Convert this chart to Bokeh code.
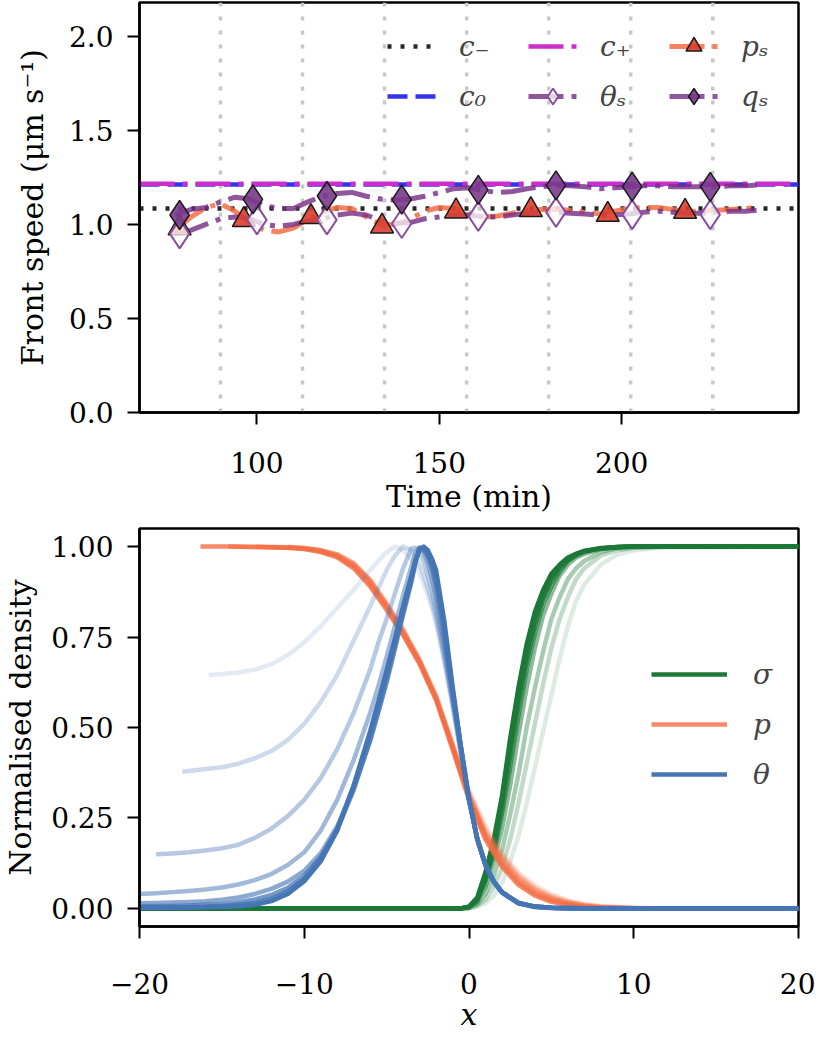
from bokeh.plotting import figure
from bokeh.models import (Range1d, FixedTicker, NumeralTickFormatter, CustomJSTickFormatter,
                          Span, Legend, LegendItem)
from bokeh.layouts import column
from bokeh.embed import file_html
from bokeh.resources import INLINE

FONT = "DejaVu Serif"

# ---------------- top panel data ----------------
TIME_LIMITS = [67.8, 248.5]
SPEED_LIMITS = [0.0, 2.18]
TIME_TICKS = [100, 150, 200]
SPEED_TICKS = [0.0, 0.5, 1.0, 1.5, 2.0]
SWITCH_TIMES = [90, 112.5, 135, 157.5, 180, 202.5, 225]
C_MINUS = 1.085
C_ZERO = 1.212
C_PLUS = 1.216

T_LINE = [77.5, 82, 86, 90, 94, 98, 102, 106, 110, 114, 118, 122, 126, 130, 134, 138,
          142, 146, 150, 154, 158, 162, 166, 170, 174, 178, 182, 186, 190, 194, 198, 202,
          206, 210, 214, 218, 222, 226, 230, 234, 237]
P_S_LINE = [0.97, 1.04, 1.09, 1.11, 1.07, 1.01, 0.97, 0.96, 0.98, 1.03, 1.065, 1.09, 1.085,
            1.04, 1.0, 1.0, 1.03, 1.07, 1.09, 1.085, 1.06, 1.04, 1.045, 1.06, 1.075, 1.08,
            1.08, 1.075, 1.065, 1.055, 1.07, 1.085, 1.09, 1.09, 1.08, 1.07, 1.07, 1.075,
            1.08, 1.085, 1.09]
THETA_S_LINE = [0.95, 0.97, 1.0, 1.03, 1.04, 1.03, 1.0, 0.99, 1.0, 1.02, 1.03, 1.05, 1.06,
                1.05, 1.02, 1.005, 1.01, 1.03, 1.04, 1.05, 1.05, 1.04, 1.04, 1.05, 1.06,
                1.07, 1.065, 1.06, 1.055, 1.05, 1.05, 1.055, 1.065, 1.07, 1.065, 1.06,
                1.06, 1.065, 1.07, 1.07, 1.075]
Q_S_LINE = [1.05, 1.08, 1.09, 1.12, 1.145, 1.135, 1.10, 1.085, 1.085, 1.12, 1.15, 1.165,
            1.17, 1.15, 1.135, 1.13, 1.135, 1.15, 1.17, 1.19, 1.195, 1.18, 1.17, 1.175,
            1.19, 1.2, 1.208, 1.205, 1.2, 1.19, 1.195, 1.2, 1.205, 1.205, 1.2, 1.2, 1.2,
            1.2, 1.205, 1.205, 1.21]

P_S_MARK_T = [78.8, 96.4, 114.8, 134.3, 154.6, 175.1, 196.2, 217.4]
P_S_MARK_V = [0.98, 1.024, 1.04, 0.99, 1.07, 1.077, 1.052, 1.068]
THETA_S_MARK_T = [78.8, 100.0, 119.2, 139.7, 160.7, 182.0, 202.9, 224.3]
THETA_S_MARK_V = [0.95, 1.024, 1.024, 1.005, 1.043, 1.064, 1.052, 1.052]
Q_S_MARK_T = [78.8, 98.9, 119.2, 139.7, 160.7, 182.0, 202.9, 224.3]
Q_S_MARK_V = [1.05, 1.133, 1.151, 1.132, 1.184, 1.208, 1.201, 1.2]

# ---------------- bottom panel data ----------------
X_LIMITS = [-20, 20]
DENS_LIMITS = [-0.05, 1.05]
X_TICKS = [-20, -10, 0, 10, 20]
DENS_TICKS = [0.0, 0.25, 0.5, 0.75, 1.0]

SIGMA_X = [-20, -0.5, 0, 0.5, 1, 1.5, 2, 2.5, 3, 3.5, 4, 4.5, 5, 5.5, 6, 6.5, 7, 8, 9, 10, 12, 20]
SIGMA_PROFILES = [
    [0, 0, 0, 0.005, 0.015, 0.035, 0.07, 0.13, 0.20, 0.29, 0.39, 0.49, 0.59, 0.69, 0.78, 0.85, 0.895, 0.95, 0.978, 0.99, 0.998, 1],
    [0, 0, 0, 0.008, 0.025, 0.06, 0.11, 0.19, 0.29, 0.40, 0.51, 0.62, 0.72, 0.80, 0.86, 0.91, 0.94, 0.975, 0.99, 0.996, 1, 1],
    [0, 0, 0.002, 0.012, 0.04, 0.09, 0.16, 0.26, 0.37, 0.50, 0.61, 0.71, 0.80, 0.86, 0.91, 0.94, 0.96, 0.985, 0.995, 0.998, 1, 1],
    [0, 0, 0.003, 0.018, 0.06, 0.13, 0.22, 0.34, 0.48, 0.61, 0.72, 0.81, 0.87, 0.92, 0.95, 0.97, 0.98, 0.993, 0.998, 1, 1, 1],
    [0, 0, 0.004, 0.022, 0.075, 0.15, 0.26, 0.39, 0.53, 0.66, 0.76, 0.84, 0.89, 0.93, 0.96, 0.975, 0.985, 0.995, 0.999, 1, 1, 1],
    [0, 0, 0.004, 0.025, 0.08, 0.16, 0.28, 0.42, 0.56, 0.68, 0.78, 0.855, 0.905, 0.94, 0.962, 0.977, 0.987, 0.995, 0.999, 1, 1, 1],
    [0, 0, 0.005, 0.027, 0.09, 0.175, 0.295, 0.445, 0.585, 0.705, 0.80, 0.865, 0.915, 0.945, 0.966, 0.98, 0.988, 0.996, 0.999, 1, 1, 1],
    [0, 0, 0.005, 0.03, 0.10, 0.19, 0.31, 0.47, 0.61, 0.73, 0.82, 0.88, 0.925, 0.95, 0.97, 0.98, 0.988, 0.995, 0.998, 1, 1, 1],
]

P_X = [-16.3, -14.6, -12.9, -11, -10, -9, -8, -7, -6, -5, -4, -3, -2, -1, 0, 1, 2, 3, 4, 5, 6, 7, 8, 10, 12, 20]
P_PROFILES = [
    [None, None, None, 0.999, 0.997, 0.99, 0.98, 0.955, 0.91, 0.845, 0.775, 0.69, 0.59, 0.46, 0.33, 0.23, 0.155, 0.10, 0.065, 0.04, 0.022, 0.012, 0.006, 0.001, 0.0, 0.0],
    [None, None, None, 0.999, 0.997, 0.99, 0.979, 0.954, 0.908, 0.843, 0.77, 0.687, 0.587, 0.455, 0.322, 0.219, 0.146, 0.094, 0.058, 0.035, 0.02, 0.011, 0.006, 0.001, 0.0, 0.0],
    [None, None, None, 0.999, 0.996, 0.99, 0.978, 0.953, 0.907, 0.84, 0.768, 0.685, 0.585, 0.452, 0.316, 0.21, 0.138, 0.086, 0.052, 0.03, 0.017, 0.009, 0.004, 0.001, 0.0, 0.0],
    [None, None, 1.0, 0.998, 0.995, 0.989, 0.976, 0.95, 0.903, 0.838, 0.765, 0.683, 0.583, 0.448, 0.31, 0.204, 0.13, 0.079, 0.046, 0.026, 0.014, 0.007, 0.003, 0.001, 0.0, 0.0],
    [None, 1.0, 0.999, 0.997, 0.994, 0.987, 0.973, 0.945, 0.897, 0.832, 0.76, 0.68, 0.58, 0.445, 0.305, 0.197, 0.122, 0.072, 0.04, 0.022, 0.011, 0.005, 0.002, 0.0, 0.0, 0.0],
    [1.0, 1.0, 0.999, 0.997, 0.993, 0.985, 0.97, 0.94, 0.89, 0.825, 0.755, 0.675, 0.575, 0.44, 0.30, 0.19, 0.115, 0.065, 0.035, 0.018, 0.009, 0.004, 0.002, 0.0, 0.0, 0.0],
]

THETA_X = [-20, -19, -18, -17, -16, -15, -14, -13, -12, -11, -10, -9, -8, -7, -6, -5.5, -5, -4.5,
           -4, -3.5, -3.25, -3, -2.75, -2.5, -2.25, -2, -1.5, -1, -0.5, 0, 0.5, 1, 1.5, 2, 3, 4, 5, 6, 8, 20]
THETA_START_X = [-15.8, -17.4]
THETA_START_Y = [0.645, 0.378]
THETA_PROFILES = [
    [None, None, None, None, None, 0.648, 0.652, 0.66, 0.675, 0.70, 0.735, 0.78, 0.83, 0.88, 0.935, 0.96, 0.985, 1.0,
     0.99, 0.965, 0.947, 0.925, 0.897, 0.865, 0.827, 0.785, 0.68, 0.555, 0.425, 0.30, 0.195, 0.12, 0.072, 0.042, 0.013, 0.004, 0.001, 0.0, 0.0, 0.0],
    [None, None, None, 0.38, 0.385, 0.39, 0.40, 0.415, 0.435, 0.465, 0.51, 0.57, 0.645, 0.74, 0.835, 0.885, 0.935, 0.975,
     1.0, 0.99, 0.972, 0.95, 0.92, 0.885, 0.845, 0.80, 0.69, 0.565, 0.43, 0.30, 0.195, 0.12, 0.073, 0.043, 0.014, 0.004, 0.001, 0.0, 0.0, 0.0],
    [None, 0.15, 0.152, 0.155, 0.16, 0.166, 0.176, 0.195, 0.22, 0.255, 0.30, 0.36, 0.44, 0.54, 0.66, 0.735, 0.80, 0.87,
     0.94, 0.995, 0.997, 0.985, 0.96, 0.92, 0.875, 0.82, 0.70, 0.57, 0.435, 0.30, 0.195, 0.12, 0.074, 0.044, 0.014, 0.004, 0.001, 0.0, 0.0, 0.0],
    [0.04, 0.042, 0.045, 0.048, 0.052, 0.058, 0.066, 0.078, 0.095, 0.12, 0.155, 0.215, 0.30, 0.41, 0.54, 0.615, 0.695, 0.78,
     0.865, 0.945, 0.985, 0.998, 0.985, 0.955, 0.91, 0.855, 0.725, 0.583, 0.44, 0.30, 0.195, 0.12, 0.074, 0.044, 0.014, 0.004, 0.001, 0.0, 0.0, 0.0],
    [0.014, 0.015, 0.016, 0.018, 0.02, 0.024, 0.03, 0.04, 0.054, 0.074, 0.104, 0.152, 0.227, 0.332, 0.462, 0.542, 0.624, 0.716,
     0.81, 0.90, 0.955, 0.995, 0.99, 0.97, 0.935, 0.885, 0.75, 0.595, 0.445, 0.30, 0.193, 0.12, 0.075, 0.045, 0.015, 0.005, 0.002, 0.0, 0.0, 0.0],
    [0.006, 0.0065, 0.007, 0.008, 0.01, 0.012, 0.017, 0.025, 0.037, 0.057, 0.09, 0.142, 0.218, 0.327, 0.466, 0.546, 0.631, 0.722,
     0.816, 0.906, 0.958, 0.995, 0.995, 0.978, 0.948, 0.905, 0.77, 0.60, 0.447, 0.30, 0.192, 0.12, 0.075, 0.045, 0.015, 0.005, 0.002, 0.001, 0.0, 0.0],
    [0.003, 0.0033, 0.0037, 0.0042, 0.005, 0.007, 0.01, 0.015, 0.026, 0.047, 0.082, 0.136, 0.22, 0.338, 0.483, 0.563, 0.647, 0.735,
     0.825, 0.912, 0.96, 0.993, 0.998, 0.985, 0.958, 0.92, 0.78, 0.605, 0.448, 0.30, 0.191, 0.12, 0.075, 0.045, 0.015, 0.005, 0.002, 0.001, 0.0, 0.0],
    [0.001, 0.0012, 0.0015, 0.002, 0.003, 0.004, 0.006, 0.01, 0.02, 0.04, 0.075, 0.13, 0.215, 0.34, 0.49, 0.572, 0.658, 0.745,
     0.835, 0.92, 0.962, 0.992, 1.0, 0.99, 0.966, 0.935, 0.795, 0.615, 0.45, 0.305, 0.19, 0.12, 0.075, 0.045, 0.015, 0.005, 0.002, 0.001, 0.0, 0.0],
]

CURVE_ALPHAS = [0.15, 0.27, 0.39, 0.51, 0.63, 0.75, 0.87, 1.0]
P_ALPHAS = [0.15, 0.3, 0.45, 0.55, 0.65, 0.8]

GREEN = "#1b7837"
ORANGE = "#f46d43"
BLUE = "#4575b4"
PURPLE = "#762a83"
TICK_PX = "28px"
LABEL_PX = "30px"


def style(p, xlabel, ylabel, xlabel_style, x_tick_standoff, x_label_standoff, y_label_standoff):
    p.background_fill_color = "white"
    p.border_fill_color = "white"
    p.outline_line_color = "black"
    p.outline_line_width = 2.5
    p.xgrid.visible = False
    p.ygrid.visible = False
    p.xaxis.axis_label = xlabel
    p.yaxis.axis_label = ylabel
    for ax in (p.xaxis[0], p.yaxis[0]):
        ax.axis_line_width = 2.5
        ax.major_tick_line_width = 2
        ax.major_tick_out = 12
        ax.major_tick_in = 0
        ax.minor_tick_line_color = None
        ax.major_label_text_font = FONT
        ax.major_label_text_font_size = TICK_PX
        ax.major_label_text_color = "black"
        ax.axis_label_text_font = FONT
        ax.axis_label_text_font_size = LABEL_PX
        ax.axis_label_text_color = "black"
        ax.axis_label_text_font_style = "normal"
        ax.major_label_standoff = 14
    p.xaxis[0].axis_label_text_font_style = xlabel_style
    p.xaxis[0].major_label_standoff = x_tick_standoff
    p.xaxis[0].axis_label_standoff = x_label_standoff
    p.yaxis[0].axis_label_standoff = y_label_standoff


def style_legend(lg, glyph_w, standoff, label_w):
    lg.glyph_width = glyph_w
    lg.glyph_height = 40
    lg.label_height = 40
    lg.label_width = label_w
    lg.label_standoff = standoff
    lg.spacing = 10
    lg.padding = 0
    lg.margin = 0
    lg.border_line_alpha = 0
    lg.background_fill_alpha = 0
    lg.label_text_font = FONT
    lg.label_text_font_style = "italic"
    lg.label_text_font_size = TICK_PX


# ---------------- top figure ----------------
top = figure(width=815, height=524, x_range=Range1d(*TIME_LIMITS), y_range=Range1d(*SPEED_LIMITS),
             output_backend="svg", toolbar_location=None,
             min_border_left=134, min_border_right=13, min_border_top=2, min_border_bottom=112)
style(top, "Time (min)", "Front speed (μm s⁻¹)", "normal", 27, 3, 16)
top.xaxis[0].ticker = FixedTicker(ticks=TIME_TICKS)
top.yaxis[0].ticker = FixedTicker(ticks=SPEED_TICKS)
top.yaxis[0].formatter = NumeralTickFormatter(format="0.0")

for t in SWITCH_TIMES:
    top.add_layout(Span(location=t, dimension="height", line_color="#c8c8c8",
                        line_width=3.5, line_dash="4 10", level="underlay"))

r_cm = top.line(TIME_LIMITS, [C_MINUS, C_MINUS], line_color="#262626", line_width=4.5, line_dash="4 9")
r_c0 = top.line(TIME_LIMITS, [C_ZERO, C_ZERO], line_color="#3333ee", line_width=4.5, line_dash="20 8")
r_cp = top.line(TIME_LIMITS, [C_PLUS, C_PLUS], line_color="#cc2ecc", line_width=4.5, line_dash="35 8 5 8")

r_pl = top.line(T_LINE, P_S_LINE, line_color=ORANGE, line_alpha=0.85, line_width=5, line_dash="35 8 5 8")
r_tl = top.line(T_LINE, THETA_S_LINE, line_color=PURPLE, line_alpha=0.8, line_width=5, line_dash="35 8 5 8")
r_ql = top.line(T_LINE, Q_S_LINE, line_color=PURPLE, line_alpha=0.8, line_width=5, line_dash="35 8 5 8")

r_pm = top.scatter(P_S_MARK_T, P_S_MARK_V, marker="triangle", size=23, fill_color="#dc3f2f",
                   fill_alpha=0.9, line_color="#1a1a1a", line_width=1.5)
r_tm = top.scatter(THETA_S_MARK_T, THETA_S_MARK_V, marker="diamond", size=29, fill_color="white",
                   fill_alpha=0.75, line_color="#8a4f9e", line_width=2)
r_qm = top.scatter(Q_S_MARK_T, Q_S_MARK_V, marker="diamond", size=29, fill_color="#7a3a8c",
                   fill_alpha=0.9, line_color="#1a1a1a", line_width=1.5)

leg_top = Legend(items=[
    LegendItem(label="c₋", renderers=[r_cm]),
    LegendItem(label="c₀", renderers=[r_c0]),
    LegendItem(label="c₊", renderers=[r_cp]),
    LegendItem(label="θₛ", renderers=[r_tl, r_tm]),
    LegendItem(label="pₛ", renderers=[r_pl, r_pm]),
    LegendItem(label="qₛ", renderers=[r_ql, r_qm]),
], location=(248, 296), nrows=2, orientation="vertical")
style_legend(leg_top, 49, 23, 59)
top.add_layout(leg_top)

# ---------------- bottom figure ----------------
bot = figure(width=815, height=510, x_range=Range1d(*X_LIMITS), y_range=Range1d(*DENS_LIMITS),
             output_backend="svg", toolbar_location=None,
             min_border_left=134, min_border_right=17, min_border_top=4, min_border_bottom=100)
style(bot, "x", "Normalised density", "italic", 34, 0, 10)
bot.xaxis[0].ticker = FixedTicker(ticks=X_TICKS)
bot.xaxis[0].formatter = CustomJSTickFormatter(code="return tick < 0 ? '\\u2212' + Math.abs(tick) : String(tick);")
bot.yaxis[0].ticker = FixedTicker(ticks=DENS_TICKS)
bot.yaxis[0].formatter = NumeralTickFormatter(format="0.00")

r_sigma = []
for k, ys in enumerate(SIGMA_PROFILES):
    r_sigma.append(bot.line(SIGMA_X, ys, line_color=GREEN, line_alpha=CURVE_ALPHAS[k],
                            line_width=4.5, line_join="round"))

r_p = []
for k, ys in enumerate(P_PROFILES):
    xs = [x for x, y in zip(P_X, ys) if y is not None]
    yv = [y for y in ys if y is not None]
    r_p.append(bot.line(xs, yv, line_color=ORANGE, line_alpha=P_ALPHAS[k], line_width=4.5, line_join="round"))

r_theta = []
for k, ys in enumerate(THETA_PROFILES):
    xs = [x for x, y in zip(THETA_X, ys) if y is not None]
    yv = [y for y in ys if y is not None]
    if k < len(THETA_START_X):
        xs = [THETA_START_X[k]] + xs
        yv = [THETA_START_Y[k]] + yv
    r_theta.append(bot.line(xs, yv, line_color=BLUE, line_alpha=CURVE_ALPHAS[k],
                            line_width=4.5, line_join="round"))

leg_bot = Legend(items=[
    LegendItem(label="σ", renderers=[r_sigma[-1]]),
    LegendItem(label="p", renderers=[r_p[-1]]),
    LegendItem(label="θ", renderers=[r_theta[-1]]),
], location=(512, 132))
style_legend(leg_bot, 76, 26, 20)
bot.add_layout(leg_bot)

layout = column(top, bot, spacing=0)
with open("out.html", "w", encoding="utf-8") as f:
    f.write(file_html(layout, INLINE))
